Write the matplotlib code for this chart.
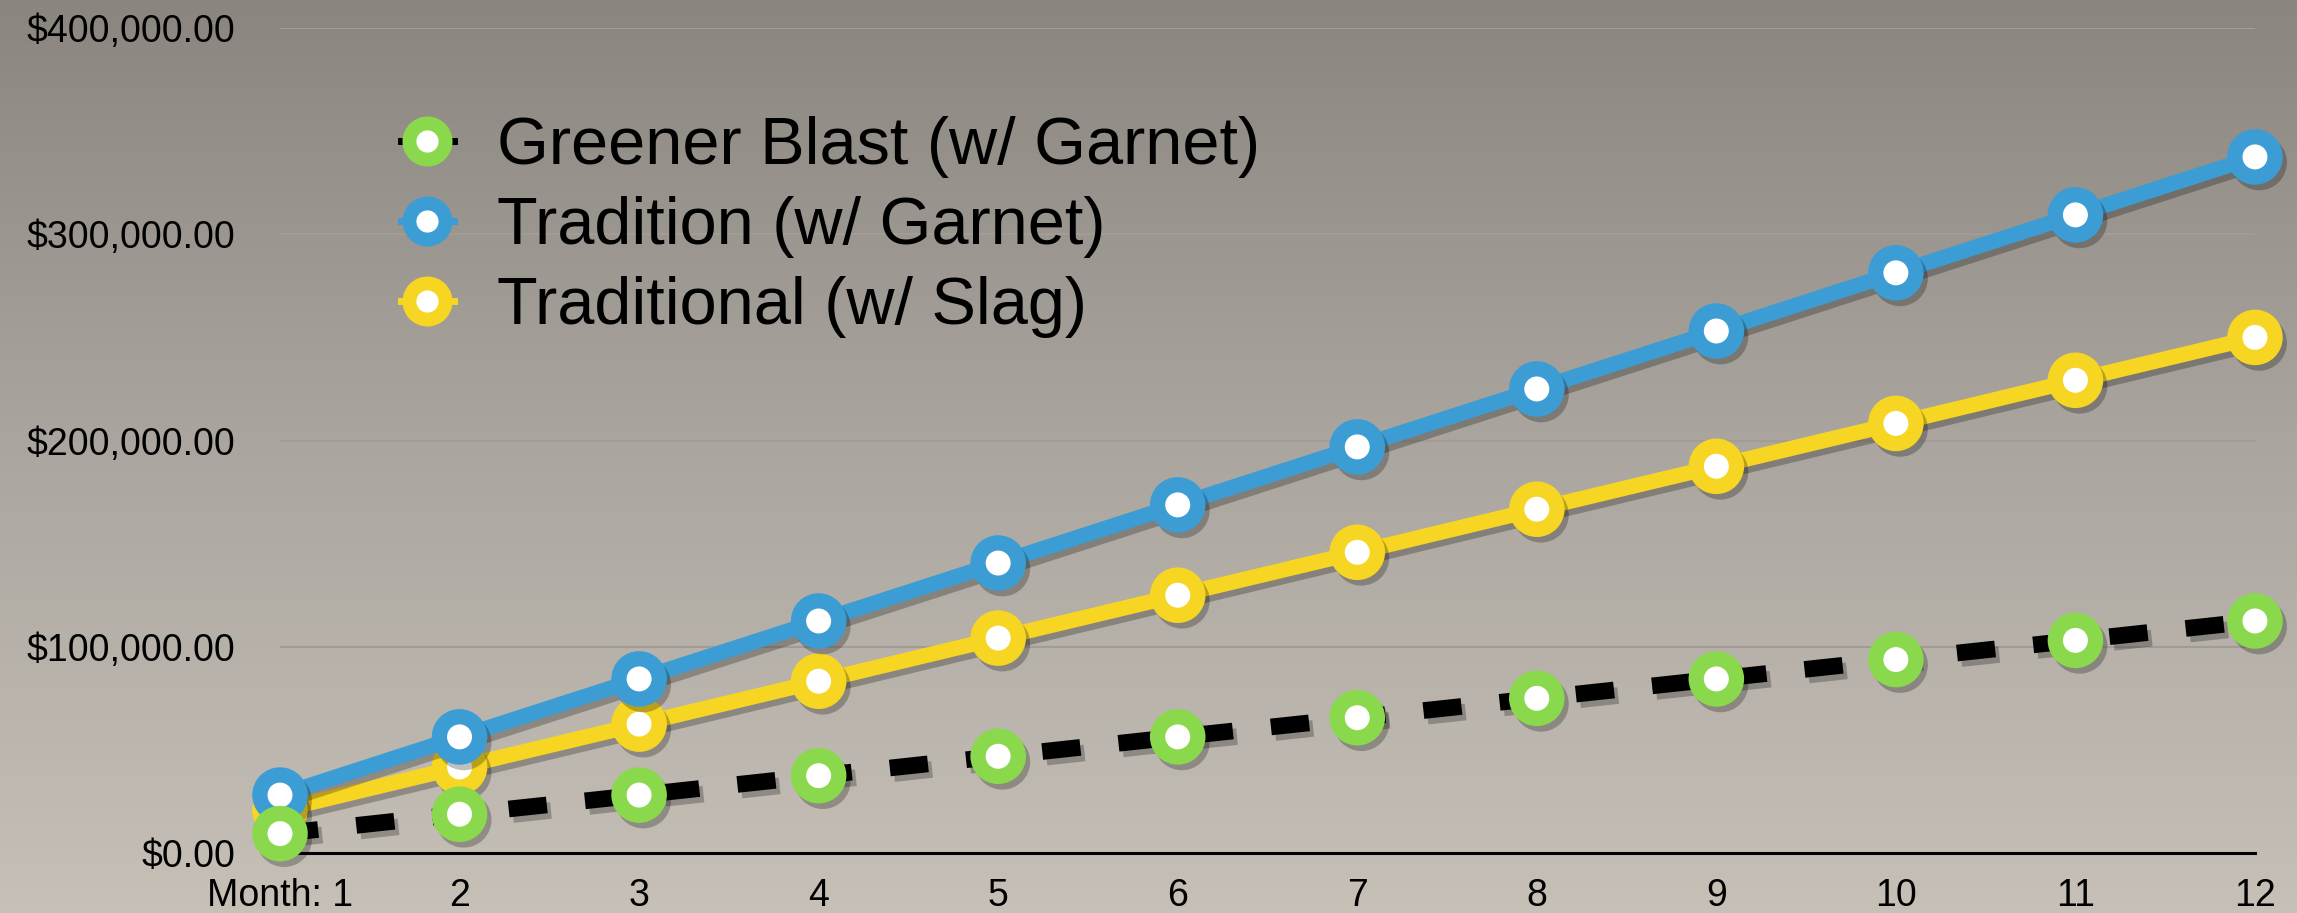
"""
Cumulative blasting cost per month: Greener Blast vs traditional media
"""
import numpy as np
import matplotlib
matplotlib.use('Agg')
import matplotlib.pyplot as plt
import matplotlib.patheffects as pe
from matplotlib.lines import Line2D
from matplotlib.ticker import FuncFormatter
from matplotlib.colors import LinearSegmentedColormap

plt.rcParams['font.family'] = ['Liberation Sans', 'DejaVu Sans']

# Data
months = list(range(1, 13))
month_labels = ['Month: 1', '2', '3', '4', '5', '6', '7', '8', '9', '10', '11', '12']
y_ticks = [0, 100000, 200000, 300000, 400000]

greener_garnet = [9400, 18800, 28100, 37500, 46900, 56300,
                  65600, 75000, 84400, 93800, 103100, 112500]
tradition_garnet = [28100, 56300, 84400, 112500, 140600, 168800,
                    196900, 225000, 253100, 281300, 309400, 337500]
traditional_slag = [20800, 41700, 62500, 83300, 104200, 125000,
                    145800, 166700, 187500, 208300, 229200, 250000]

names = ['Greener Blast (w/ Garnet)', 'Tradition (w/ Garnet)', 'Traditional (w/ Slag)']

green = '#8ad84c'
blue = '#3c9dd4'
yellow = '#f6d523'

fig = plt.figure(figsize=(22.97, 9.13), dpi=100)

# Grey gradient background
bg = fig.add_axes([0, 0, 1, 1], zorder=-10)
grad = np.linspace(0, 1, 256).reshape(-1, 1)
cmap = LinearSegmentedColormap.from_list('bg', ['#8a857f', '#aba69f', '#c6c0b7'])
bg.imshow(grad, aspect='auto', cmap=cmap, extent=[0, 1, 0, 1], origin='upper')
bg.set_axis_off()

ax = fig.add_axes([0.1219, 0.0657, 0.8598, 0.9036])
ax.set_facecolor('none')

shadow = [pe.SimpleLineShadow(offset=(3, -4), shadow_color='black', alpha=0.25), pe.Normal()]

# Lines
ax.plot(months, traditional_slag, color=yellow, lw=11, marker='o', ms=29,
        mfc='white', mec=yellow, mew=11, clip_on=False, zorder=3, path_effects=shadow)
ax.plot(months, tradition_garnet, color=blue, lw=11, marker='o', ms=29,
        mfc='white', mec=blue, mew=11, clip_on=False, zorder=4, path_effects=shadow)
ax.plot(months, greener_garnet, color='black', lw=12, dashes=(2.3, 2.3), marker='o', ms=29,
        mfc='white', mec=green, mew=11, clip_on=False, zorder=5, path_effects=shadow)

# Axes
ax.set_xlim(1, 12)
ax.set_ylim(0, 400000)
ax.set_xticks(months)
ax.set_xticklabels(month_labels)
ax.set_yticks(y_ticks)
ax.yaxis.set_major_formatter(FuncFormatter(lambda v, p: '${:,.2f}'.format(v)))
ax.tick_params(axis='both', length=0, labelsize=27)
ax.tick_params(axis='y', pad=32)
ax.tick_params(axis='x', pad=18)

ax.yaxis.grid(True, color='#a29c95', lw=1.5)
ax.set_axisbelow(True)
for s in ['top', 'right', 'left']:
    ax.spines[s].set_visible(False)
ax.spines['bottom'].set_color('black')
ax.spines['bottom'].set_linewidth(2.2)

# Legend
handles = [
    Line2D([], [], color='black', lw=5, marker='o', ms=26, mfc='white', mec=green, mew=10),
    Line2D([], [], color=blue, lw=5, marker='o', ms=26, mfc='white', mec=blue, mew=10),
    Line2D([], [], color=yellow, lw=5, marker='o', ms=26, mfc='white', mec=yellow, mew=10),
]
fig.legend(handles, names, loc='upper left', bbox_to_anchor=(0.1745, 0.873),
           frameon=False, fontsize=48, handlelength=0.8, handletextpad=0.65,
           labelspacing=0.27, borderpad=0, borderaxespad=0)

fig.savefig('out.png', dpi=100)
